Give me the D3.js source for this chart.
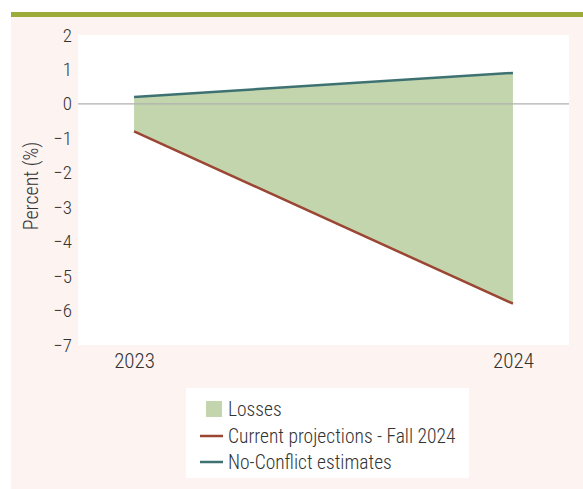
<!DOCTYPE html>
<html><head><meta charset="utf-8">
<script src="https://cdn.jsdelivr.net/npm/d3@7"></script>
<style>
html,body{margin:0;padding:0;background:#fff;}
text{font-family:"Roboto Condensed",sans-serif;font-weight:300;fill:#333;}
</style></head>
<body><svg id="c" width="583" height="489"></svg>
<script>
const years = ["2023", "2024"];
const noConflict = [0.2, 0.9];
const current = [-0.8, -5.8];
const yTicks = [2, 1, 0, -1, -2, -3, -4, -5, -6, -7];
const legendLabels = ["Losses", "Current projections - Fall 2024", "No-Conflict estimates"];

const svg = d3.select("#c");
// background
svg.append("rect").attr("x", 11).attr("y", 17).attr("width", 572).attr("height", 472).attr("fill", "#fdf4f2");
svg.append("rect").attr("x", 11).attr("y", 12).attr("width", 572).attr("height", 5).attr("fill", "#9dab38");

const plot = {l: 78, r: 569, t: 35, b: 345};
svg.append("rect").attr("x", plot.l).attr("y", plot.t).attr("width", plot.r - plot.l).attr("height", plot.b - plot.t).attr("fill", "#ffffff");

const x = d3.scalePoint().domain(years).range([plot.l, plot.r]).padding(0.148);
const y = d3.scaleLinear().domain([-7, 2]).range([plot.b, plot.t]);

const data = years.map((yr, i) => ({yr, hi: noConflict[i], lo: current[i]}));

svg.append("path").datum(data)
  .attr("d", d3.area().x(d => x(d.yr)).y0(d => y(d.lo)).y1(d => y(d.hi)))
  .attr("fill", "#c2d5ad");

// zero line
svg.append("line").attr("x1", plot.l).attr("x2", plot.r).attr("y1", y(0)).attr("y2", y(0))
  .attr("stroke", "#b0b0b0").attr("stroke-width", 1.2);

svg.append("path").datum(data)
  .attr("d", d3.line().x(d => x(d.yr)).y(d => y(d.lo)))
  .attr("fill", "none").attr("stroke", "#9b4533").attr("stroke-width", 2.5);
svg.append("path").datum(data)
  .attr("d", d3.line().x(d => x(d.yr)).y(d => y(d.hi)))
  .attr("fill", "none").attr("stroke", "#3e7272").attr("stroke-width", 2.5);

// y axis
const ya = svg.append("g").attr("transform", `translate(${plot.l},0)`)
  .call(d3.axisLeft(y).tickValues(yTicks).tickSize(0).tickPadding(6).tickFormat(d => d < 0 ? "\u2212" + Math.abs(d) : d));
ya.select(".domain").remove();
ya.selectAll("text").attr("font-size", 19);

// x axis
const xa = svg.append("g").attr("transform", `translate(0,${plot.b})`)
  .call(d3.axisBottom(x).tickSize(0).tickPadding(8));
xa.select(".domain").remove();
xa.selectAll("text").attr("font-size", 21);

svg.append("text").attr("transform", "translate(38,186) rotate(-90)")
  .attr("text-anchor", "middle").attr("font-size", 20).text("Percent (%)");

// legend
svg.append("rect").attr("x", 186).attr("y", 388).attr("width", 283).attr("height", 90).attr("fill", "#ffffff");
const lg = svg.append("g");
const rowY = [409, 436, 462];
lg.append("rect").attr("x", 206).attr("y", rowY[0] - 8).attr("width", 16).attr("height", 16).attr("fill", "#c2d5ad");
lg.append("line").attr("x1", 200).attr("x2", 223).attr("y1", rowY[1]).attr("y2", rowY[1]).attr("stroke", "#9b4533").attr("stroke-width", 2.5);
lg.append("line").attr("x1", 200).attr("x2", 223).attr("y1", rowY[2]).attr("y2", rowY[2]).attr("stroke", "#3e7272").attr("stroke-width", 2.5);
legendLabels.forEach((t, i) => {
  lg.append("text").attr("x", 228).attr("y", rowY[i]).attr("dy", "0.35em").attr("font-size", 19.5).text(t);
});
</script></body></html>
